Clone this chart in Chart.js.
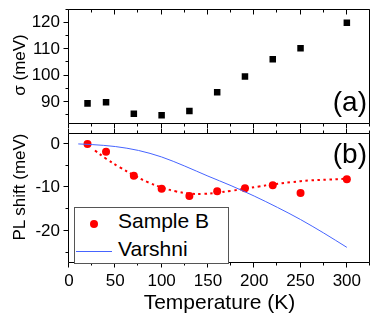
<!DOCTYPE html>
<html><head><meta charset="utf-8">
<script src="https://cdn.jsdelivr.net/npm/chart.js@4/dist/chart.umd.min.js"></script>
<style>
html,body{margin:0;padding:0;background:#fff;}
#wrap{position:relative;width:382px;height:323px;overflow:hidden;font-family:"Liberation Sans",Arial,sans-serif;color:#000;}
canvas{position:absolute;left:0;}
.lbl{position:absolute;line-height:1;white-space:nowrap;}
.rot{transform:translate(-50%,-50%) rotate(-90deg);font-size:17px;}
#legend{position:absolute;left:74px;top:207px;width:153px;height:55px;border:1px solid #555;background:#fff;}
</style></head><body>
<div id="wrap">
<canvas id="ca" width="382" height="129" style="top:0"></canvas>
<canvas id="cb" width="382" height="194" style="top:129px"></canvas>
<div class="lbl rot" style="left:19px;top:65px;">σ (meV)</div>
<div class="lbl rot" style="left:19px;top:187px;">PL shift (meV)</div>
<div class="lbl" style="right:15px;top:88px;font-size:28px;">(a)</div>
<div class="lbl" style="right:15px;top:140px;font-size:28px;">(b)</div>
<div id="legend"></div>
<div class="lbl" style="left:90px;top:220px;width:8px;height:8px;border-radius:50%;background:#ff0000;"></div>
<div class="lbl" style="left:118px;top:209.5px;font-size:21px;">Sample B</div>
<div class="lbl" style="left:76px;top:250.5px;width:36px;height:1px;background:rgb(70,100,255);"></div>
<div class="lbl" style="left:118px;top:238px;font-size:21px;">Varshni</div>
</div>
<script>
// ---- data ----
const tempA = [20, 40, 70, 100, 130, 160, 190, 220, 250, 300];
const sigma = [89.5, 89.9, 85.6, 85.0, 86.6, 93.7, 99.7, 106.2, 110.3, 120.0];
const tempB = [20, 40, 70, 100, 130, 160, 190, 220, 250, 300];
const plShift = [0, -1.8, -7.3, -10.3, -12.0, -10.9, -10.2, -9.5, -11.3, -8.1];
const fitT = [28, 40, 55, 70, 85, 100, 115, 130, 145, 160, 175, 190, 205, 220, 240, 260, 280, 300];
const fitShift = [-1.5, -3.4, -5.4, -7.2, -8.8, -10.0, -10.9, -11.4, -11.5, -11.2, -10.8, -10.3, -9.8, -9.3, -8.8, -8.4, -8.2, -8.0];
const varT = [10, 25, 50, 75, 100, 125, 150, 175, 200, 225, 250, 275, 300];
const varShift = [0, -0.15, -0.6, -1.5, -3.0, -5.1, -7.4, -9.6, -12.0, -14.6, -17.4, -20.5, -23.8];
const xTicks = [0, 50, 100, 150, 200, 250, 300];
const xMinor = [25, 75, 125, 175, 225, 275, 325];
const yTicksA = [90, 100, 110, 120];
const yMinorA = [85, 95, 105, 115, 125];
const yTicksB = [0, -10, -20];
const yMinorB = [-5, -15, -25];

const pts = (xs, ys) => xs.map((x, i) => ({x: x, y: ys[i]}));
Chart.defaults.font.family = '"Liberation Sans", Arial, sans-serif';
Chart.defaults.color = '#000';

function zeroPad(s) { s.paddingTop = 0; s.paddingBottom = 0; s.paddingLeft = 0; s.paddingRight = 0; }

function framePlugin(topOutward, yMaj, yMin) {
  return {
    id: 'frame',
    afterDatasetsDraw(chart) {
      const {ctx, chartArea: a, scales: {x, y}} = chart;
      ctx.save();
      ctx.strokeStyle = '#000';
      ctx.lineWidth = 1;
      ctx.beginPath();
      const L = Math.round(a.left) - 0.5, R = Math.round(a.right) - 0.5;
      const T = Math.round(a.top) - 0.5, B = Math.round(a.bottom) - 0.5;
      ctx.rect(L, T, R - L, B - T);
      const vt = (v, len) => {
        const px = Math.round(x.getPixelForValue(v)) - 0.5;
        if (px < L - 1 || px > R + 1) return;
        ctx.moveTo(px, T); ctx.lineTo(px, topOutward ? T - len : T + len);
        ctx.moveTo(px, B); ctx.lineTo(px, B + len);
      };
      xTicks.forEach(v => vt(v, 5));
      xMinor.forEach(v => vt(v, 3));
      const ht = (v, len) => {
        const py = Math.round(y.getPixelForValue(v)) - 0.5;
        ctx.moveTo(L, py); ctx.lineTo(L - len, py);
      };
      yMaj.forEach(v => ht(v, 5));
      yMin.forEach(v => ht(v, 3));
      ctx.stroke();
      ctx.restore();
    }
  };
}

const common = {
  animation: false, responsive: false, devicePixelRatio: 1,
  plugins: {legend: {display: false}, tooltip: {enabled: false}},
};

new Chart(document.getElementById('ca'), {
  type: 'scatter',
  data: {datasets: [{
    data: pts(tempA, sigma),
    pointStyle: 'rect', pointRadius: 4.6, backgroundColor: '#000', borderColor: '#000', borderWidth: 0
  }]},
  options: Object.assign({}, common, {
    layout: {padding: {top: 9.5, right: 12, left: 0, bottom: 0}},
    scales: {
      x: {type: 'linear', min: 0, max: 325,
        ticks: {display: false}, grid: {display: false, drawTicks: false}, border: {display: false},
        afterBuildTicks: s => { s.ticks = xTicks.map(v => ({value: v})); },
        afterFit: s => { s.height = 5; zeroPad(s); }},
      y: {type: 'linear', min: 81.7, max: 125,
        ticks: {font: {size: 17}, color: '#000', padding: 9},
        grid: {display: false, drawTicks: false}, border: {display: false},
        afterBuildTicks: s => { s.ticks = yTicksA.map(v => ({value: v})); },
        afterFit: s => { s.width = 69; zeroPad(s); }}
    }
  }),
  plugins: [framePlugin(false, yTicksA, yMinorA)]
});

new Chart(document.getElementById('cb'), {
  type: 'scatter',
  data: {datasets: [
    {type: 'line', data: pts(varT, varShift), borderColor: 'rgb(70,100,255)', borderWidth: 1,
     pointRadius: 0, cubicInterpolationMode: 'monotone', fill: false},
    {type: 'line', data: pts(fitT, fitShift), borderColor: '#ff0000', borderWidth: 2,
     borderDash: [2.5, 3.5], pointRadius: 0, tension: 0.4, fill: false},
    {data: pts(tempB, plShift), pointStyle: 'circle', pointRadius: 4, backgroundColor: '#ff0000',
     borderColor: '#ff0000', borderWidth: 0}
  ]},
  options: Object.assign({}, common, {
    layout: {padding: {top: 4.5, right: 12, left: 0, bottom: 0}},
    scales: {
      x: {type: 'linear', min: 0, max: 325,
        ticks: {font: {size: 17}, color: '#000', padding: 8, maxRotation: 0},
        grid: {display: false, drawTicks: false}, border: {display: false},
        title: {display: true, text: 'Temperature (K)', font: {size: 21}, color: '#000', padding: {top: 0, bottom: 7}},
        afterBuildTicks: s => { s.ticks = xTicks.map(v => ({value: v})); },
        afterFit: s => { s.height = 60; zeroPad(s); }},
      y: {type: 'linear', min: -27.4, max: 2.4,
        ticks: {font: {size: 17}, color: '#000', padding: 9},
        grid: {display: false, drawTicks: false}, border: {display: false},
        afterBuildTicks: s => { s.ticks = yTicksB.map(v => ({value: v})); },
        afterFit: s => { s.width = 69; zeroPad(s); }}
    }
  }),
  plugins: [framePlugin(true, yTicksB, yMinorB)]
});
</script>
</body></html>
